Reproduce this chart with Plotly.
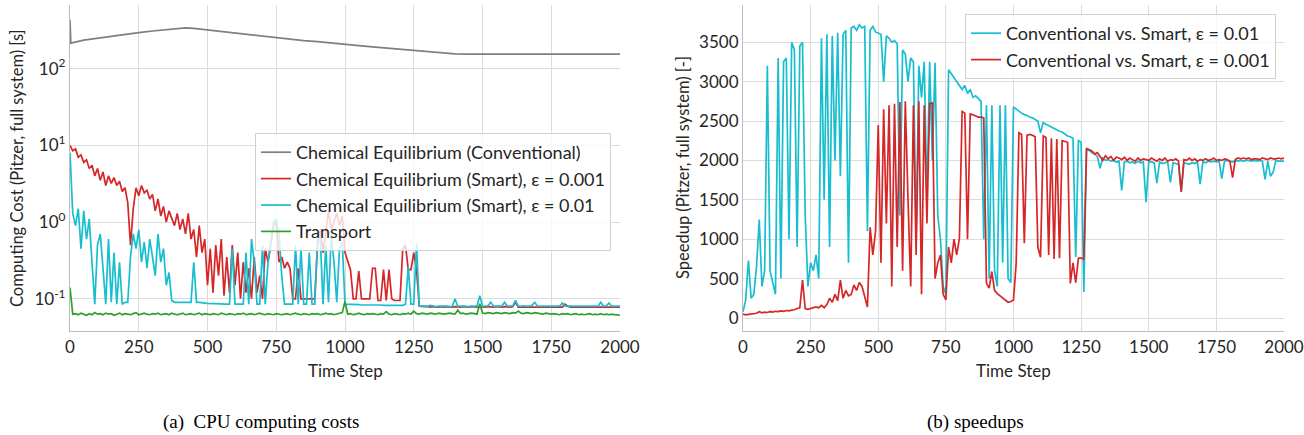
import plotly.graph_objects as go

# ---------------- data ----------------
# time steps shared by the noisy series (every 10th step)
steps = list(range(0, 2001, 10))

# conventional chemical equilibrium cost [s] (smooth, sampled coarser)
conv_steps = [0, 3, 50, 100, 150, 200, 250, 300, 350, 400, 420, 450, 500, 550, 600, 650, 700,
              750, 800, 850, 900, 950, 1000, 1050, 1100, 1150, 1200, 1250, 1300, 1350, 1400,
              1450, 1500, 1600, 1700, 1800, 1900, 2000]
cost_conventional = [430, 215, 235, 250, 265, 280, 295, 310, 325, 338, 340, 335, 320, 305, 290,
                     275, 262, 250, 240, 232, 225, 215, 208, 200, 192, 185, 178, 172, 166, 160,
                     156, 155, 155, 155, 155, 155, 155, 155]

# smart chemical equilibrium cost, eps = 0.001 [s]
cost_smart_001 = [
    10, 8.5, 9, 7, 7.5, 6, 6.5, 5, 5.5, 4,
    5, 3.5, 4.5, 3, 4, 3.2, 3.8, 3, 3.4, 2.5,
    2.8, 1.8, 0.5, 1.5, 2.8, 2.2, 3, 2.4, 2.6, 2.0,
    2.3, 1.4, 2.0, 1.2, 1.6, 1.0, 1.4, 1.1, 0.9, 1.3,
    0.8, 1.1, 0.7, 1.3, 0.6, 0.8, 0.35, 0.9, 0.4, 0.6,
    0.15, 0.45, 0.12, 0.5, 0.2, 0.6, 0.11, 0.35, 0.12, 0.5,
    0.15, 0.4, 0.1, 0.3, 0.12, 0.25, 0.1, 0.35, 0.12, 0.2,
    0.1, 0.45, 0.3, 0.5, 0.9, 1.0, 0.3, 0.35, 0.25, 0.3,
    0.25, 0.1, 0.1, 0.25, 0.1, 0.1, 0.1, 0.1, 0.1, 0.1,
    0.5, 0.8, 0.4, 0.7, 1.4, 0.8, 1.0, 1.3, 0.9, 1.2,
    0.4, 0.3, 0.24, 0.1, 0.1, 0.23, 0.1, 0.1, 0.1, 0.1,
    0.25, 0.25, 0.095, 0.095, 0.24, 0.095, 0.24, 0.1, 0.095, 0.095,
    0.095, 0.45, 0.5, 0.24, 0.24, 0.4, 0.24, 0.08, 0.079, 0.079,
    0.079, 0.078, 0.079, 0.078, 0.078, 0.079, 0.078, 0.079, 0.078, 0.078,
    0.079, 0.078, 0.078, 0.079, 0.078, 0.078, 0.079, 0.078, 0.078, 0.079,
    0.078, 0.078, 0.079, 0.078, 0.078, 0.079, 0.078, 0.078, 0.079, 0.078,
    0.078, 0.079, 0.09, 0.078, 0.078, 0.079, 0.078, 0.078, 0.079, 0.078,
    0.078, 0.079, 0.078, 0.078, 0.079, 0.078, 0.078, 0.079, 0.078, 0.078,
    0.085, 0.08, 0.078, 0.078, 0.079, 0.078, 0.078, 0.079, 0.078, 0.078,
    0.078, 0.079, 0.078, 0.078, 0.079, 0.078, 0.078, 0.079, 0.078, 0.078,
    0.078,
]

# smart chemical equilibrium cost, eps = 0.01 [s]
cost_smart_01 = [
    8.0, 1.3, 0.9, 1.5, 0.45, 1.4, 0.6, 1.1, 0.3, 0.085,
    0.5, 0.7, 0.25, 0.085, 0.6, 0.09, 0.4, 0.085, 0.3, 0.085,
    0.09, 0.09, 0.35, 0.7, 0.45, 0.8, 0.3, 0.55, 0.25, 0.6,
    0.35, 0.2, 0.7, 0.3, 0.45, 0.15, 0.22, 0.095, 0.09, 0.09,
    0.09, 0.09, 0.09, 0.09, 0.09, 0.3, 0.09, 0.09, 0.088, 0.088,
    0.087, 0.087, 0.087, 0.086, 0.086, 0.086, 0.085, 0.085, 0.085, 0.45,
    0.085, 0.085, 0.085, 0.085, 0.4, 0.085, 0.6, 0.3, 0.085, 0.085,
    0.5, 0.085, 0.3, 0.6, 1.0, 1.1, 0.7, 0.2, 0.085, 0.085,
    0.085, 0.085, 0.5, 0.085, 0.45, 0.085, 0.085, 0.4, 0.085, 0.085,
    0.6, 0.65, 0.085, 0.5, 0.09, 0.7, 0.3, 0.09, 0.45, 0.55,
    0.085, 0.085, 0.084, 0.084, 0.084, 0.084, 0.083, 0.083, 0.083, 0.083,
    0.084, 0.083, 0.083, 0.083, 0.082, 0.082, 0.082, 0.082, 0.082, 0.082,
    0.082, 0.082, 0.085, 0.26, 0.085, 0.085, 0.53, 0.08, 0.08, 0.08,
    0.08, 0.082, 0.08, 0.079, 0.08, 0.08, 0.081, 0.08, 0.079, 0.08,
    0.1, 0.08, 0.08, 0.081, 0.08, 0.079, 0.08, 0.08, 0.08, 0.11,
    0.08, 0.08, 0.081, 0.09, 0.08, 0.08, 0.081, 0.08, 0.09, 0.08,
    0.08, 0.081, 0.095, 0.08, 0.08, 0.081, 0.08, 0.08, 0.082, 0.09,
    0.08, 0.08, 0.081, 0.08, 0.08, 0.08, 0.081, 0.08, 0.08, 0.088,
    0.08, 0.08, 0.081, 0.08, 0.08, 0.08, 0.081, 0.08, 0.08, 0.08,
    0.08, 0.081, 0.08, 0.09, 0.08, 0.081, 0.088, 0.08, 0.08, 0.08,
    0.08,
]

# transport cost [s]
cost_transport = [
    0.14, 0.063, 0.064, 0.062, 0.065, 0.063, 0.061, 0.064, 0.062, 0.066,
    0.063, 0.064, 0.062, 0.065, 0.063, 0.064, 0.061, 0.063, 0.065, 0.062,
    0.064, 0.063, 0.062, 0.064, 0.066, 0.062, 0.063, 0.065, 0.063, 0.062,
    0.064, 0.063, 0.065, 0.062, 0.063, 0.064, 0.062, 0.065, 0.063, 0.062,
    0.063, 0.065, 0.062, 0.063, 0.064, 0.062, 0.063, 0.065, 0.062, 0.064,
    0.063, 0.062, 0.064, 0.063, 0.062, 0.065, 0.063, 0.062, 0.064, 0.063,
    0.062, 0.064, 0.063, 0.065, 0.062, 0.063, 0.064, 0.062, 0.063, 0.065,
    0.063, 0.062, 0.064, 0.063, 0.062, 0.064, 0.063, 0.062, 0.063, 0.064,
    0.062, 0.063, 0.065, 0.063, 0.062, 0.064, 0.063, 0.062, 0.064, 0.063,
    0.064, 0.062, 0.063, 0.065, 0.063, 0.064, 0.062, 0.063, 0.064, 0.066,
    0.092, 0.063, 0.064, 0.062, 0.063, 0.065, 0.063, 0.062, 0.064, 0.063,
    0.064, 0.063, 0.062, 0.064, 0.063, 0.068, 0.063, 0.062, 0.064, 0.063,
    0.062, 0.064, 0.063, 0.065, 0.063, 0.069, 0.064, 0.063, 0.065, 0.064,
    0.063, 0.065, 0.064, 0.063, 0.065, 0.064, 0.063, 0.064, 0.065, 0.064,
    0.063, 0.071, 0.064, 0.065, 0.063, 0.064, 0.065, 0.064, 0.063, 0.086,
    0.065, 0.064, 0.066, 0.065, 0.064, 0.066, 0.065, 0.064, 0.066, 0.065,
    0.064, 0.066, 0.065, 0.069, 0.065, 0.064, 0.066, 0.065, 0.064, 0.066,
    0.065, 0.064, 0.063, 0.065, 0.064, 0.063, 0.064, 0.063, 0.062, 0.064,
    0.063, 0.064, 0.062, 0.063, 0.064, 0.062, 0.063, 0.062, 0.063, 0.064,
    0.062, 0.063, 0.062, 0.064, 0.062, 0.063, 0.062, 0.063, 0.062, 0.062,
    0.061,
]

# speedup conventional / smart, eps = 0.01 [-]
speedup_01 = [
    80, 230, 730, 250, 300, 650, 1250, 400, 600, 3200,
    600, 450, 300, 3300, 500, 3250, 3300, 1000, 3500, 3400,
    900, 3450, 3500, 1300, 400, 700, 600, 800, 500, 3550,
    1500, 3600, 900, 3580, 2000, 3620, 1800, 3600, 3650, 700,
    3680, 3700, 3650, 3720, 3680, 3700, 1100, 3650, 3700, 3630,
    3620, 3600, 3000, 3580, 3550, 3500, 3520, 3480, 1300, 3400,
    3350, 3000, 3300, 3250, 1000, 3200, 2800, 3250, 1500, 3250,
    2000, 3240, 1300, 1000, 400, 300, 3150, 3100, 3050, 3000,
    2950, 2900, 2950, 2850, 2900, 2800, 2820, 2780, 2750, 1000,
    2700, 500, 2700, 600, 400, 2700, 700, 2700, 500, 450,
    2680, 2650, 2620, 2600, 2580, 2570, 2550, 2540, 2520, 2500,
    2350, 2480, 2460, 2440, 2430, 2400, 2390, 2370, 2360, 2330,
    2310, 2300, 2280, 775, 2250, 2230, 330, 2150, 2120, 2100,
    2080, 2050, 1900, 2030, 2000, 2010, 1990, 2000, 1980, 1990,
    1620, 1980, 1990, 1970, 1980, 1960, 1990, 1970, 1980, 1470,
    1990, 1980, 1970, 1710, 1980, 1960, 1970, 1980, 1720, 1970,
    1960, 1950, 1600, 1970, 1960, 1950, 1970, 1960, 1980, 1700,
    1980, 1970, 1990, 1980, 1990, 1980, 1990, 1770, 1990, 2000,
    1990, 1980, 2000, 1990, 2000, 1990, 2000, 2000, 1990, 2000,
    1990, 2000, 1990, 1760, 1990, 1800, 1850, 2000, 1990, 1990,
    1990,
]

# speedup conventional / smart, eps = 0.001 [-]
speedup_001 = [
    50, 40, 45, 50, 55, 60, 80, 65, 75, 70,
    80, 75, 85, 80, 90, 85, 95, 90, 100, 105,
    120, 130, 480, 120, 110, 120, 130, 140, 130, 160,
    130, 170, 250, 200, 300, 220, 480, 250, 350, 280,
    300, 420, 350, 450, 400, 250, 140, 1150, 800, 1100,
    2450, 700, 2650, 1200, 2700, 400, 2720, 900, 2740, 600,
    2750, 1500, 400, 2700, 800, 2750, 300, 2700, 1200, 2720,
    2730, 500, 700, 800, 300, 230, 900, 700, 1000, 800,
    1010, 2620, 2600, 1000, 2590, 2580, 2560, 2550, 2550, 2540,
    440, 380, 590, 350, 310, 280, 250, 230, 200, 210,
    230, 700, 2350, 2330, 950, 2320, 2330, 2320, 2300, 900,
    770, 2310, 2290, 800, 2280, 750, 2270, 760, 2250, 2240,
    2230, 440, 700, 450, 760, 760, 750, 2150, 2130, 2120,
    2080, 2100, 2050, 2000, 2060, 2020, 2050, 2000, 2040, 2030,
    2010, 2040, 2000, 2030, 2010, 1990, 2030, 2000, 2020, 2010,
    2000, 2030, 2010, 1990, 2020, 2000, 2030, 1990, 2010, 2000,
    2020, 1990, 1600, 2010, 2000, 2030, 2000, 2020, 1990, 2010,
    2000, 2020, 2000, 2010, 2030, 2000, 2010, 2000, 2020, 2010,
    1990, 1780, 2010, 2030, 2020, 2030, 2020, 2030, 2010, 2020,
    2020, 2010, 2030, 2020, 2010, 2030, 2020, 2020, 2030, 2020,
    2030,
]

x_ticks = [0, 250, 500, 750, 1000, 1250, 1500, 1750, 2000]
cost_ticks = [0.1, 1, 10, 100]
cost_tick_text = ["10<sup>-1</sup>", "10<sup>0</sup>", "10<sup>1</sup>", "10<sup>2</sup>"]
speedup_ticks = [0, 500, 1000, 1500, 2000, 2500, 3000, 3500]

# ---------------- styling ----------------
GRAY, RED, CYAN, GREEN = "#7f7f7f", "#d62728", "#17becf", "#2ca02c"
FONT = "Lato"
TXT = "#262626"
W, H = 1304, 435

fig = go.Figure()

def line(x, y, name, color, xa, ya, legend):
    fig.add_trace(go.Scatter(
        x=x, y=y, name=name, mode="lines",
        line=dict(color=color, width=1.7),
        xaxis=xa, yaxis=ya, legend=legend,
    ))

line(conv_steps, cost_conventional, "Chemical Equilibrium (Conventional)", GRAY, "x", "y", "legend")
line(steps, cost_smart_001, "Chemical Equilibrium (Smart), ε = 0.001", RED, "x", "y", "legend")
line(steps, cost_smart_01, "Chemical Equilibrium (Smart), ε = 0.01", CYAN, "x", "y", "legend")
line(steps, cost_transport, "Transport", GREEN, "x", "y", "legend")
line(steps, speedup_01, "Conventional vs. Smart, ε = 0.01", CYAN, "x2", "y2", "legend2")
line(steps, speedup_001, "Conventional vs. Smart, ε = 0.001", RED, "x2", "y2", "legend2")

y_dom = [(H - 331) / H, (H - 5) / H]
axis_common = dict(
    showgrid=True, gridcolor="#dcdcdc", gridwidth=1,
    showline=True, linecolor="#bdbdbd", linewidth=1.2,
    zeroline=False, ticks="", mirror=False, automargin=False,
    tickfont=dict(family=FONT, size=17, color=TXT),
)

legend_common = dict(
    yanchor="top", xanchor="right",
    bgcolor="rgba(255,255,255,0.8)", bordercolor="#d0d0d0", borderwidth=1,
    font=dict(family=FONT, size=18, color=TXT), tracegroupgap=0,
    itemwidth=30,
)

fig.update_layout(
    width=W, height=H,
    margin=dict(l=0, r=0, t=0, b=0, autoexpand=False),
    paper_bgcolor="white", plot_bgcolor="white",
    font=dict(family=FONT, color=TXT),
    xaxis=dict(domain=[70 / W, 620 / W], range=[0, 2000], tickvals=x_ticks, anchor="y", **axis_common),
    yaxis=dict(domain=y_dom, type="log", range=[-1.42, 2.83], tickvals=cost_ticks,
               ticktext=cost_tick_text, anchor="x", **axis_common),
    xaxis2=dict(domain=[743 / W, 1284 / W], range=[0, 2000], tickvals=x_ticks, anchor="y2", **axis_common),
    yaxis2=dict(domain=y_dom, range=[-165, 3972], tickvals=speedup_ticks, anchor="x2", **axis_common),
    legend=dict(x=611 / W, y=1 - 133 / H, **legend_common),
    legend2=dict(x=1276 / W, y=1 - 14 / H, **legend_common),
    showlegend=True,
)

def label(text, x, y, size=17, angle=0, family=FONT):
    fig.add_annotation(
        text=text, x=x / W, y=1 - y / H, xref="paper", yref="paper",
        showarrow=False, textangle=angle, xanchor="center", yanchor="middle",
        font=dict(family=family, size=size, color=TXT if family == FONT else "#000"),
    )

label("Time Step", 345, 370)
label("Time Step", 1013, 370)
label("Computing Cost (Pitzer, full system) [s]", 17, 168, size=16.5, angle=-90)
label("Speedup (Pitzer, full system) [-]", 683, 168, size=16.5, angle=-90)
label("(a)  CPU computing costs", 261, 422, size=19, family="Liberation Serif")
label("(b) speedups", 975, 422, size=19, family="Liberation Serif")

fig.write_html("out.html")
